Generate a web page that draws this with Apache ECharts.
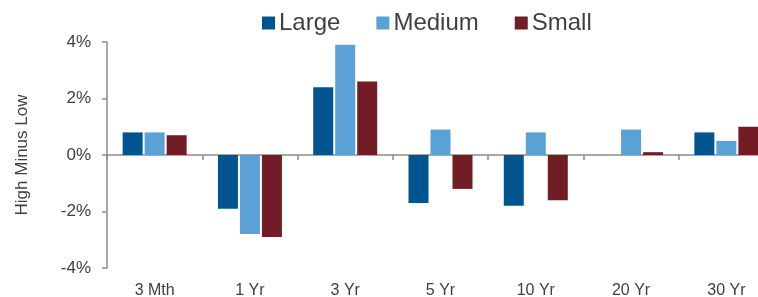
<!DOCTYPE html>
<html>
<head>
<meta charset="utf-8">
<script src="https://cdn.jsdelivr.net/npm/echarts@6/dist/echarts.min.js"></script>
<style>
  html, body { margin: 0; padding: 0; background: #fff; }
  #myChart { width: 758px; height: 297px; }
</style>
</head>
<body>
<div id="myChart"></div>
<script>
// 期限
const categories = ['3 Mth', '1 Yr', '3 Yr', '5 Yr', '10 Yr', '20 Yr', '30 Yr']
// High Minus Low, %
const large = [0.8, -1.9, 2.4, -1.7, -1.8, 0, 0.8]
const medium = [0.8, -2.8, 3.9, 0.9, 0.8, 0.9, 0.5]
const small = [0.7, -2.9, 2.6, -1.2, -1.6, 0.1, 1.0]
const seriesNames = ['Large', 'Medium', 'Small']
const colors = ['#00558F', '#5AA1D5', '#721C26']

const axisGrey = '#8c8c8c'
const textGrey = '#404040'
const font = 'Arial, "Liberation Sans", sans-serif'

function barSeries(name, data, color) {
  return {
    name: name,
    type: 'bar',
    xAxisIndex: 0,
    data: data,
    barWidth: 20,
    barGap: '10%',
    itemStyle: { color: color },
    emphasis: { disabled: true }
  }
}

let option = {
  animation: false,
  color: colors,
  legend: {
    left: 257,
    top: 6,
    itemWidth: 13,
    itemHeight: 13,
    itemGap: 36,
    icon: 'rect',
    textStyle: { fontSize: 24, color: textGrey, fontFamily: font, padding: [0, 0, 0, -1] },
    data: seriesNames
  },
  grid: {
    left: 107,
    top: 42,
    width: 667,
    bottom: 29,
    containLabel: false,
    outerBoundsMode: 'none'
  },
  xAxis: [
    {
      // 0% 轴线
      type: 'category',
      data: categories,
      axisLine: { onZero: true, lineStyle: { color: axisGrey, width: 1.5 } },
      axisTick: { show: true, length: 5, inside: false, lineStyle: { color: axisGrey, width: 1.5 } },
      axisLabel: { show: false },
      splitLine: { show: false }
    },
    {
      // 底部标签
      type: 'category',
      data: categories,
      position: 'bottom',
      axisLine: { show: false, onZero: false },
      axisTick: { show: false },
      axisLabel: { margin: 15, fontSize: 16, color: textGrey, fontFamily: font },
      splitLine: { show: false }
    }
  ],
  yAxis: {
    type: 'value',
    min: -4,
    max: 4,
    interval: 2,
    name: 'High Minus Low',
    nameLocation: 'middle',
    nameGap: 76,
    nameTextStyle: { fontSize: 17, color: textGrey, fontFamily: font },
    axisLine: { show: true, lineStyle: { color: axisGrey, width: 1.5 } },
    axisTick: { show: true, length: 5, lineStyle: { color: axisGrey, width: 1.5 } },
    axisLabel: { margin: 16, fontSize: 17, color: textGrey, fontFamily: font, formatter: '{value}%' },
    splitLine: { show: false }
  },
  series: [
    barSeries(seriesNames[0], large, colors[0]),
    barSeries(seriesNames[1], medium, colors[1]),
    barSeries(seriesNames[2], small, colors[2])
  ]
}

let myChart = echarts.init(document.getElementById('myChart'), null, { renderer: 'canvas' })
myChart.setOption(option)
</script>
</body>
</html>
